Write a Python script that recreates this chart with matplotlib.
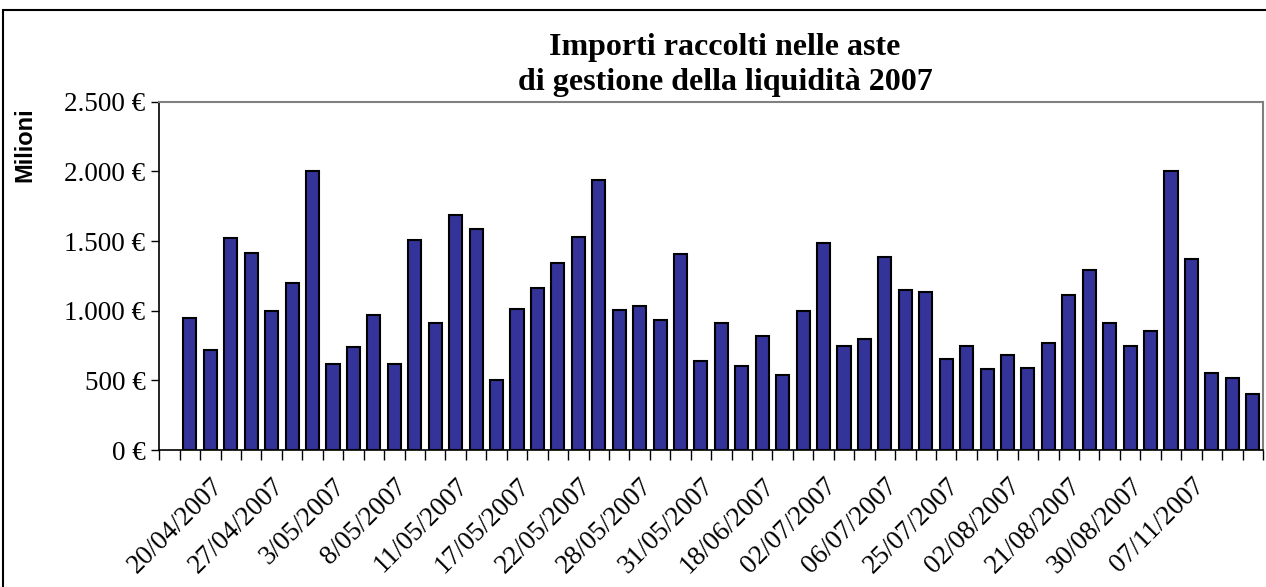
import numpy as np
import matplotlib
matplotlib.use("Agg")
import matplotlib.pyplot as plt
from matplotlib.patches import Rectangle
from matplotlib.ticker import FuncFormatter, FixedLocator

# importi raccolti (milioni di euro), una barra per asta
importi = [950, 720, 1525, 1415, 1000, 1200, 2000, 620, 740, 970,
           620, 1505, 910, 1690, 1585, 500, 1010, 1165, 1345, 1530,
           1935, 1005, 1035, 935, 1410, 640, 915, 600, 820, 540,
           1000, 1485, 745, 795, 1385, 1150, 1135, 655, 750, 580,
           680, 590, 770, 1110, 1295, 915, 750, 855, 2000, 1370,
           555, 520, 400]

# date mostrate sull'asse (una ogni tre aste)
date_etichette = ["20/04/2007", "27/04/2007", "3/05/2007", "8/05/2007",
                  "11/05/2007", "17/05/2007", "22/05/2007", "28/05/2007",
                  "31/05/2007", "18/06/2007", "02/07/2007", "06/07/2007",
                  "25/07/2007", "02/08/2007", "21/08/2007", "30/08/2007",
                  "07/11/2007"]

y_ticks = [0, 500, 1000, 1500, 2000, 2500]

W, H = 1266, 587
fig = plt.figure(figsize=(W / 100, H / 100), dpi=100)

# cornice esterna del grafico
fig.patches.append(Rectangle((3 / W, -0.1), 2, (1 - 10 / H) + 0.1,
                             transform=fig.transFigure, fill=False,
                             edgecolor="black", linewidth=1.5))

ax = fig.add_axes([159.3 / W, 1 - 450 / H, (1263 - 159.3) / W, (450 - 101.7) / H])

# la prima categoria dell'asse e' vuota
x = np.arange(1, len(importi) + 1)
ax.bar(x, importi, width=0.64, color="#333399", edgecolor="black", linewidth=1.5)

ax.set_xlim(-0.5, len(importi) + 0.5)
ax.set_ylim(0, 2500)

ax.set_yticks(y_ticks)
ax.yaxis.set_major_formatter(FuncFormatter(lambda v, p: f"{int(v):,} €".replace(",", ".")))
ax.tick_params(axis="y", direction="out", length=6, width=1, pad=4, labelsize=19.5)
for lbl in ax.get_yticklabels():
    lbl.set_fontfamily("Liberation Serif")

lab_pos = np.arange(2, 2 + 3 * len(date_etichette), 3)
ax.set_xticks(lab_pos)
ax.set_xticklabels(date_etichette, rotation=45, ha="right", va="top",
                   rotation_mode="anchor", fontsize=19.5, fontfamily="Liberation Serif")
ax.tick_params(axis="x", which="major", length=0, pad=17)
ax.xaxis.set_minor_locator(FixedLocator(np.arange(-0.5, len(importi) + 1, 1)))
ax.tick_params(axis="x", which="minor", direction="out", length=7, width=1)

for s in ["top", "right"]:
    ax.spines[s].set_color("#808080")
    ax.spines[s].set_linewidth(1.5)
for s in ["left", "bottom"]:
    ax.spines[s].set_color("black")
    ax.spines[s].set_linewidth(1.2)

fig.text(725 / W, 1 - 55 / H, "Importi raccolti nelle aste", ha="center", va="baseline",
         fontsize=23, fontweight="bold", fontfamily="Liberation Serif")
fig.text(725 / W, 1 - 90 / H, "di gestione della liquidità 2007", ha="center", va="baseline",
         fontsize=23, fontweight="bold", fontfamily="Liberation Serif")

fig.text(25 / W, 1 - 145 / H, "Milioni", rotation=90, ha="center", va="center",
         fontsize=17, fontweight="bold", fontfamily="Liberation Sans")

fig.savefig("out.png", dpi=100)
